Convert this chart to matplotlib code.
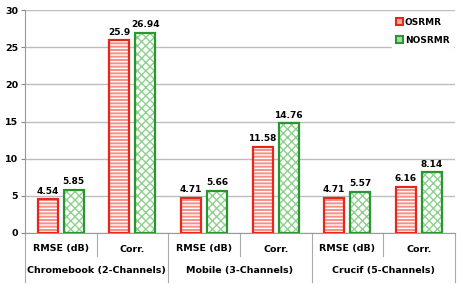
import matplotlib.pyplot as plt
from matplotlib.patches import Patch
from matplotlib.lines import Line2D

subcats = ["RMSE (dB)", "Corr.", "RMSE (dB)", "Corr.", "RMSE (dB)", "Corr."]
groups = ["Chromebook (2-Channels)", "Mobile (3-Channels)", "Crucif (5-Channels)"]
osrmr = [4.54, 25.9, 4.71, 11.58, 4.71, 6.16]
nosrmr = [5.85, 26.94, 5.66, 14.76, 5.57, 8.14]
yticks = [0, 5, 10, 15, 20, 25, 30]

plt.rcParams["font.family"] = ["DejaVu Sans"]
plt.rcParams["font.weight"] = "bold"
plt.rcParams["hatch.linewidth"] = 1.0

W, H = 463, 289
fig = plt.figure(figsize=(W / 100, H / 100), dpi=100)
ax = fig.add_axes([25 / W, 1 - 233 / H, 430 / W, 223 / H])

red_edge = "#e8261c"
green_edge = "#2a9630"
x = list(range(len(subcats)))
bw = 0.28
xr = [i - 0.185 for i in x]
xg = [i + 0.18 for i in x]

# hatched fill first, then the thick outline on top
ax.bar(xr, osrmr, bw, facecolor="#f59088", edgecolor="white", hatch="-----", linewidth=0, zorder=3)
ax.bar(xr, osrmr, bw, fill=False, edgecolor=red_edge, linewidth=1.6, zorder=4)
ax.bar(xg, nosrmr, bw, facecolor="white", edgecolor="#8fd08f", hatch="xxxx", linewidth=0, zorder=3)
ax.bar(xg, nosrmr, bw, fill=False, edgecolor=green_edge, linewidth=1.6, zorder=4)

for xi, v in zip(xr, osrmr):
    ax.text(xi, v + 0.5, f"{v:g}", ha="center", va="bottom", fontsize=6.5, fontweight="bold")
for xi, v in zip(xg, nosrmr):
    ax.text(xi, v + 0.5, f"{v:g}", ha="center", va="bottom", fontsize=6.5, fontweight="bold")

ax.set_xlim(-0.5, 5.5)
ax.set_ylim(0, 30)
ax.set_yticks(yticks)
ax.tick_params(axis="y", labelsize=6.8, length=3, color="#888888", pad=2)
ax.yaxis.grid(True, color="#bdbdbd", linewidth=1, zorder=0)
ax.set_axisbelow(True)
for s in ["top", "right"]:
    ax.spines[s].set_visible(False)
ax.spines["left"].set_color("#999999")
ax.spines["bottom"].set_color("#999999")

ax.set_xticks(x)
ax.set_xticklabels([])
ax.tick_params(axis="x", length=0)

ah = 223.0
row1 = -16 / ah
row2 = -37 / ah
for xi, lab in zip(x, subcats):
    ax.text(xi, row1, lab, transform=ax.get_xaxis_transform(), ha="center", va="center",
            fontsize=6.8, fontweight="bold")
for gi, g in enumerate(groups):
    ax.text(2 * gi + 0.5, row2, g, transform=ax.get_xaxis_transform(), ha="center", va="center",
            fontsize=6.8, fontweight="bold")

for b in [0.5, 2.5, 4.5]:
    ax.add_line(Line2D([b, b], [0, -23 / ah], transform=ax.get_xaxis_transform(),
                       color="#aaaaaa", linewidth=0.8, clip_on=False))
for b in [-0.5, 1.5, 3.5, 5.5]:
    ax.add_line(Line2D([b, b], [0, -49 / ah], transform=ax.get_xaxis_transform(),
                       color="#aaaaaa", linewidth=0.8, clip_on=False))

handles = [Patch(facecolor="#f8a9a3", edgecolor=red_edge, linewidth=1.5, label="OSRMR"),
           Patch(facecolor="#a6dba6", edgecolor=green_edge, linewidth=1.5, label="NOSRMR")]
leg = ax.legend(handles=handles, loc="upper right", bbox_to_anchor=(1.0, 0.99), fontsize=6.5,
                frameon=True, fancybox=False, edgecolor="white", framealpha=1,
                handlelength=0.8, handleheight=0.8, handletextpad=0.2, labelspacing=1.0,
                borderaxespad=0.2)
leg.set_zorder(5)

fig.savefig("out.png", dpi=100)
